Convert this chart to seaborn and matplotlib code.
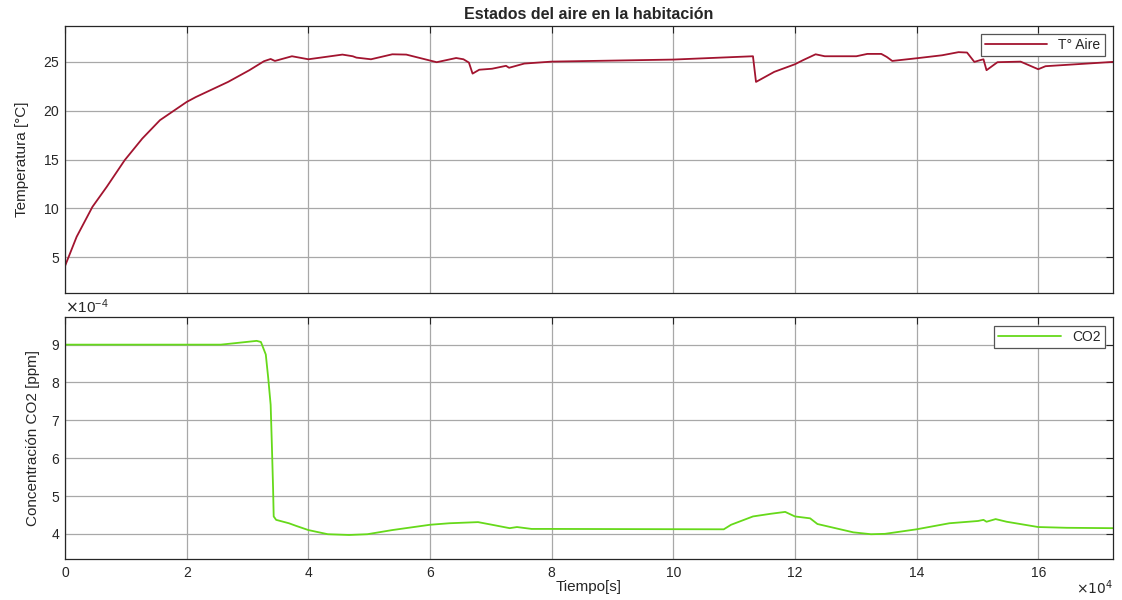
import matplotlib
matplotlib.use("Agg")
import matplotlib.pyplot as plt
import seaborn as sns
import pandas as pd
from matplotlib.ticker import ScalarFormatter, FixedLocator

# ---- data ----
t_temp = [0, 0.19, 0.45, 0.685, 0.98, 1.27, 1.56, 2.0, 2.15, 2.68, 3.03, 3.27, 3.38, 3.45,
          3.73, 4.0, 4.2, 4.56, 4.73, 4.79, 5.03, 5.38, 5.61, 6.0, 6.11, 6.43, 6.55, 6.64,
          6.70, 6.81, 7.02, 7.25, 7.30, 7.55, 8.0, 10.0, 11.31, 11.36, 11.66, 12.0, 12.13,
          12.34, 12.49, 13.01, 13.19, 13.42, 13.51, 13.6, 14.01, 14.42, 14.69, 14.83, 14.95,
          15.04, 15.1, 15.15, 15.33, 15.71, 16.0, 16.12, 17.23]
temp = [4.1, 7.08, 10.15, 12.2, 14.93, 17.15, 19.03, 20.9, 21.4, 22.95, 24.15, 25.07, 25.3, 25.1,
        25.58, 25.27, 25.44, 25.75, 25.58, 25.44, 25.27, 25.78, 25.75, 25.14, 24.97, 25.4, 25.27, 24.93,
        23.8, 24.2, 24.3, 24.6, 24.4, 24.83, 25.03, 25.24, 25.58, 22.95, 23.98, 24.76, 25.17,
        25.78, 25.58, 25.58, 25.82, 25.82, 25.51, 25.1, 25.38, 25.68, 26.0, 25.96, 25.0,
        25.17, 25.27, 24.15, 24.97, 25.03, 24.25, 24.56, 25.0]

t_co2 = [0, 2.56, 2.8, 3.15, 3.22, 3.30, 3.34, 3.38, 3.40, 3.42, 3.43, 3.47, 3.68, 3.8, 4.0,
         4.32, 4.67, 4.97, 5.38, 6.0, 6.32, 6.79, 7.02, 7.31, 7.43, 7.67, 8.0, 10.83, 10.95,
         11.31, 11.6, 11.84, 12.0, 12.25, 12.37, 12.96, 13.25, 13.48, 14.0, 14.54, 15.01,
         15.1, 15.15, 15.3, 15.48, 16.0, 16.47, 17.23]
co2 = [9.0, 9.0, 9.04, 9.1, 9.07, 8.74, 8.12, 7.41, 6.35, 5.2, 4.46, 4.37, 4.28, 4.21, 4.1,
       3.99, 3.97, 3.99, 4.1, 4.24, 4.28, 4.31, 4.24, 4.15, 4.18, 4.13, 4.13, 4.12, 4.24,
       4.46, 4.53, 4.58, 4.46, 4.41, 4.26, 4.04, 3.99, 4.0, 4.12, 4.28, 4.34,
       4.37, 4.32, 4.39, 4.32, 4.18, 4.16, 4.15]

x_ticks = [0, 2, 4, 6, 8, 10, 12, 14, 16]
x_tick_labels = ["0", "2", "4", "6", "8", "10", "12", "14", "16"]
temp_ticks = [5, 10, 15, 20, 25]
co2_ticks = [4, 5, 6, 7, 8, 9]

df_t = pd.DataFrame({"t": [v * 1e4 for v in t_temp], "T": temp})
df_c = pd.DataFrame({"t": [v * 1e4 for v in t_co2], "C": [v * 1e-4 for v in co2]})

sns.set_theme(style="white")
plt.rcParams["font.family"] = ["Liberation Sans", "DejaVu Sans"]
plt.rcParams["axes.formatter.use_mathtext"] = True

fig = plt.figure(figsize=(11.22, 6.0), dpi=100)
ax1 = fig.add_axes([0.058, 0.511, 0.934, 0.446])
ax2 = fig.add_axes([0.058, 0.068, 0.934, 0.403])

temp_color = "#A2142F"
co2_color = "#66D91A"

sns.lineplot(data=df_t, x="t", y="T", ax=ax1, color=temp_color, lw=1.3, label="T° Aire",
             estimator=None, sort=False)
sns.lineplot(data=df_c, x="t", y="C", ax=ax2, color=co2_color, lw=1.3, label="CO2",
             estimator=None, sort=False)

for ax in (ax1, ax2):
    ax.set_xlim(0, 1.723e5)
    ax.xaxis.set_major_locator(FixedLocator([v * 1e4 for v in x_ticks]))
    ax.grid(True, color="#a8a8a8", lw=0.9)
    ax.tick_params(direction="in", length=5, width=0.8, colors="#262626",
                   top=True, right=True, labelsize=10)
    ax.tick_params(axis="x", pad=5)
    for s in ax.spines.values():
        s.set_color("#262626")
        s.set_linewidth(0.9)
    leg = ax.legend(loc="upper right", fancybox=False, framealpha=1, edgecolor="#555555",
                    fontsize=10, handlelength=4.5, borderpad=0.3, borderaxespad=0.6)
    leg.get_frame().set_linewidth(0.9)

ax1.set_ylim(1.28, 28.7)
ax1.set_yticks(temp_ticks)
ax1.tick_params(labelbottom=False)
ax1.set_xlabel("")
ax1.set_ylabel("Temperatura [°C]", fontsize=11, labelpad=10)
ax1.set_title("Estados del aire en la habitación", fontsize=11.5, fontweight="bold", pad=5)

ax2.set_ylim(3.33e-4, 9.72e-4)
ax2.set_yticks([v * 1e-4 for v in co2_ticks])
fmt_y = ScalarFormatter(useMathText=True)
fmt_y.set_powerlimits((-4, -4))
ax2.yaxis.set_major_formatter(fmt_y)
ax2.set_xticks([v * 1e4 for v in x_ticks])
ax2.set_xticklabels(x_tick_labels)
ax2.text(1.0, -0.118, r"$\times 10^{4}$", transform=ax2.transAxes, ha="right",
         va="center", fontsize=10, color="#262626")
ax2.set_xlabel("Tiempo[s]", fontsize=11, labelpad=0)
ax2.set_ylabel("Concentración CO2 [ppm]", fontsize=11, labelpad=8)

fig.savefig("out.png", dpi=100)
